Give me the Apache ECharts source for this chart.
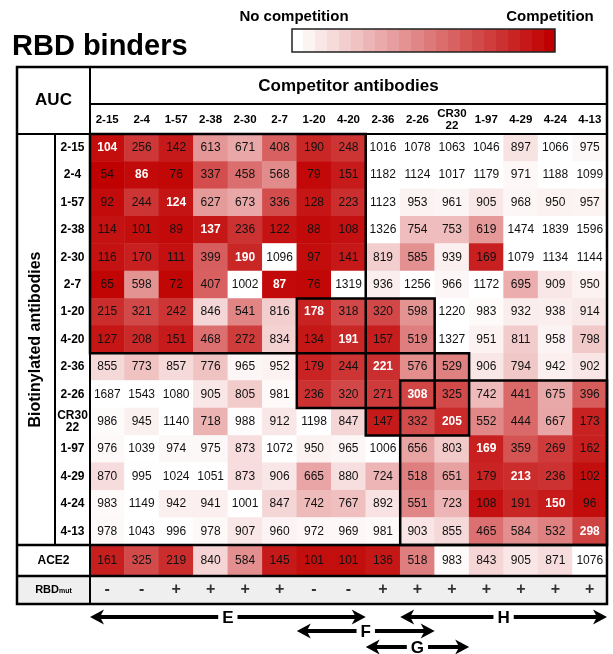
<!DOCTYPE html>
<html><head><meta charset="utf-8">
<script src="https://cdn.jsdelivr.net/npm/echarts@6.0.0/dist/echarts.min.js"></script>
<style>html,body{margin:0;padding:0;background:#fff}#c{width:613px;height:654px}</style>
</head><body><div id="c"></div>
<script>
// ---------- DATA ----------
const antibodies = ['2-15','2-4','1-57','2-38','2-30','2-7','1-20','4-20','2-36','2-26','CR3022','1-97','4-29','4-24','4-13'];
// AUC rows: biotinylated antibody (row) vs competitor antibodies (columns, same order)
const r_2_15  = [104, 256, 142, 613, 671, 408, 190, 248, 1016, 1078, 1063, 1046, 897, 1066, 975];
const r_2_4   = [54, 86, 76, 337, 458, 568, 79, 151, 1182, 1124, 1017, 1179, 971, 1188, 1099];
const r_1_57  = [92, 244, 124, 627, 673, 336, 128, 223, 1123, 953, 961, 905, 968, 950, 957];
const r_2_38  = [114, 101, 89, 137, 236, 122, 88, 108, 1326, 754, 753, 619, 1474, 1839, 1596];
const r_2_30  = [116, 170, 111, 399, 190, 1096, 97, 141, 819, 585, 939, 169, 1079, 1134, 1144];
const r_2_7   = [65, 598, 72, 407, 1002, 87, 76, 1319, 936, 1256, 966, 1172, 695, 909, 950];
const r_1_20  = [215, 321, 242, 846, 541, 816, 178, 318, 320, 598, 1220, 983, 932, 938, 914];
const r_4_20  = [127, 208, 151, 468, 272, 834, 134, 191, 157, 519, 1327, 951, 811, 958, 798];
const r_2_36  = [855, 773, 857, 776, 965, 952, 179, 244, 221, 576, 529, 906, 794, 942, 902];
const r_2_26  = [1687, 1543, 1080, 905, 805, 981, 236, 320, 271, 308, 325, 742, 441, 675, 396];
const r_CR3022= [986, 945, 1140, 718, 988, 912, 1198, 847, 147, 332, 205, 552, 444, 667, 173];
const r_1_97  = [976, 1039, 974, 975, 873, 1072, 950, 965, 1006, 656, 803, 169, 359, 269, 162];
const r_4_29  = [870, 995, 1024, 1051, 873, 906, 665, 880, 724, 518, 651, 179, 213, 236, 102];
const r_4_24  = [983, 1149, 942, 941, 1001, 847, 742, 767, 892, 551, 723, 108, 191, 150, 96];
const r_4_13  = [978, 1043, 996, 978, 907, 960, 972, 969, 981, 903, 855, 465, 584, 532, 298];
const aucRows = [r_2_15, r_2_4, r_1_57, r_2_38, r_2_30, r_2_7, r_1_20, r_4_20, r_2_36, r_2_26, r_CR3022, r_1_97, r_4_29, r_4_24, r_4_13];
const ace2 = [161, 325, 219, 840, 584, 145, 101, 101, 136, 518, 983, 843, 905, 871, 1076];
const rbdMut = ['-','-','+','+','+','+','-','-','+','+','+','+','+','+','+'];
const groups = [
  {name:'E', from:'2-15', to:'4-20'},
  {name:'F', from:'1-20', to:'2-26'},
  {name:'G', from:'2-36', to:'CR3022'},
  {name:'H', from:'2-26', to:'4-13'}
];
const colorScale = {min:50, max:1000};

// ---------- LAYOUT / STYLE ----------
const FONT = '"Liberation Sans", Arial, Helvetica, sans-serif';
const L = {tableL:17, tableR:607, tableT:67, headerLine:104, gridT:134, gridB:545, aceB:576, tableB:604, colL:90, divX:55};
const arrowLevelY = {E:617, F:631, G:647, H:617};
const RED = '#c00000';

const lbl = v => v === 'CR3022' ? 'CR30\n22' : v;

const heatData = [];
aucRows.forEach((row, r) => row.forEach((v, c) => {
  const item = {value:[c, r, v]};
  if (r === c) item.label = {color:'#fff', fontWeight:'bold'};
  heatData.push(item);
}));
const aceData = ace2.map((v, c) => [c, 0, v]);
const rbdData = rbdMut.map((s, c) => [c, 0]);

const gw = L.tableR - L.colL;
const option = {
  animation:false,
  textStyle:{fontFamily:FONT},
  grid:[
    {left:L.colL, top:L.gridT, width:gw, height:L.gridB-L.gridT, outerBoundsMode:'none'},
    {left:L.colL, top:L.gridB, width:gw, height:L.aceB-L.gridB, outerBoundsMode:'none'},
    {left:L.colL, top:L.aceB, width:gw, height:L.tableB-L.aceB, outerBoundsMode:'none',
     show:true, backgroundColor:'#efefef', borderWidth:0}
  ],
  xAxis:[
    {type:'category', gridIndex:0, data:antibodies, position:'top',
     axisLine:{show:false}, axisTick:{show:false}, splitLine:{show:false},
     axisLabel:{interval:0, margin:14, verticalAlign:'middle', fontWeight:'bold', fontSize:11.5, color:'#000', lineHeight:12, formatter:lbl, fontFamily:FONT}},
    {type:'category', gridIndex:1, data:antibodies, show:false},
    {type:'category', gridIndex:2, data:antibodies, show:false}
  ],
  yAxis:[
    {type:'category', gridIndex:0, data:antibodies, inverse:true,
     axisLine:{show:false}, axisTick:{show:false}, splitLine:{show:false},
     axisLabel:{interval:0, margin:(L.colL-L.divX)/2, align:'center', fontWeight:'bold', fontSize:12, color:'#000', lineHeight:12, formatter:lbl, fontFamily:FONT}},
    {type:'category', gridIndex:1, data:['ACE2'],
     axisLine:{show:false}, axisTick:{show:false}, splitLine:{show:false},
     axisLabel:{margin:(L.colL-L.tableL)/2, align:'center', fontWeight:'bold', fontSize:12, color:'#000', fontFamily:FONT}},
    {type:'category', gridIndex:2, data:['RBD'],
     axisLine:{show:false}, axisTick:{show:false}, splitLine:{show:false},
     axisLabel:{margin:(L.colL-L.tableL)/2, align:'center', formatter:'{a|RBD}{b|mut}',
       rich:{a:{fontWeight:'bold', fontSize:11, color:'#000', fontFamily:FONT},
             b:{fontWeight:'bold', fontSize:7, color:'#000', fontFamily:FONT, padding:[2,0,0,0]}}}}
  ],
  visualMap:{show:false, type:'continuous', min:colorScale.min, max:colorScale.max, seriesIndex:[0,1], dimension:2,
    inRange:{color:[RED,'#ffffff']}},
  series:[
    {type:'heatmap', xAxisIndex:0, yAxisIndex:0, data:heatData,
     label:{show:true, formatter:p => p.value[2], fontSize:12, color:'#111', fontFamily:FONT},
     emphasis:{disabled:true}, itemStyle:{borderWidth:0}},
    {type:'heatmap', xAxisIndex:1, yAxisIndex:1, data:aceData,
     label:{show:true, formatter:p => p.value[2], fontSize:12, color:'#111', fontFamily:FONT},
     emphasis:{disabled:true}},
    {type:'scatter', xAxisIndex:2, yAxisIndex:2, data:rbdData, symbolSize:1, silent:true,
     itemStyle:{color:'rgba(0,0,0,0)'},
     label:{show:true, position:'inside', formatter:p => rbdMut[p.dataIndex], fontSize:16, fontWeight:'bold', color:'#000', fontFamily:FONT},
     emphasis:{disabled:true}}
  ]
};

const chart = echarts.init(document.getElementById('c'), null, {renderer:'canvas'});
chart.setOption(option);

// ---------- GRAPHICS derived from axes ----------
const px = (c, r) => chart.convertToPixel({gridIndex:0}, [c, r]);
const cw = px(1,0)[0] - px(0,0)[0];
const ch = px(0,1)[1] - px(0,0)[1];
const colLeft = c => px(c,0)[0] - cw/2;
const rowTop = r => px(0,r)[1] - ch/2;

const g = [];
const T = (text, x, y, size, extra) => g.push(Object.assign({type:'text', x, y, z:100,
  style:{text, fill:'#000', font:`bold ${size}px ${FONT}`, align:'center', verticalAlign:'middle'}}, extra||{}));
const line = (x1,y1,x2,y2,w) => g.push({type:'line', z:100, shape:{x1,y1,x2,y2}, style:{stroke:'#000', lineWidth:w||2}});

// legend bar
const stops = [];
const nb = 22;
for (let i = 0; i < nb; i++) {
  const col = echarts.color.lerp(i/(nb-1), ['#ffffff', RED]);
  stops.push({offset:i/nb, color:col}, {offset:(i+1)/nb, color:col});
}
g.push({type:'rect', z:100, shape:{x:292, y:29, width:263, height:23},
  style:{fill:new echarts.graphic.LinearGradient(0,0,1,0,stops), stroke:'#222', lineWidth:1.5}});
T('No competition', 294, 17, 15);
T('Competition', 550, 17, 15);
g.push({type:'text', x:12, y:47, z:100, style:{text:'RBD binders', fill:'#000', font:`bold 29px ${FONT}`, align:'left', verticalAlign:'middle'}});

// RBD label cell background
g.push({type:'rect', z:-1, shape:{x:L.tableL, y:L.aceB, width:L.colL-L.tableL, height:L.tableB-L.aceB}, style:{fill:'#efefef'}});

// table texts
T('AUC', (L.tableL+L.colL)/2, 100, 17);
T('Competitor antibodies', (L.colL+L.tableR)/2, 86, 17);
T('Biotinylated antibodies', (L.tableL+L.divX)/2, (L.gridT+L.gridB)/2, 16, {rotation:Math.PI/2});

// table lines
g.push({type:'rect', z:100, shape:{x:L.tableL, y:L.tableT, width:L.tableR-L.tableL, height:L.tableB-L.tableT},
  style:{fill:'rgba(0,0,0,0)', stroke:'#000', lineWidth:2.5}});
line(L.colL, L.tableT, L.colL, L.tableB, 2);
line(L.colL, L.headerLine, L.tableR, L.headerLine, 2);
line(L.tableL, L.gridT, L.tableR, L.gridT, 2);
line(L.divX, L.gridT, L.divX, L.gridB, 2);
line(L.tableL, L.gridB, L.tableR, L.gridB, 2.5);
line(L.tableL, L.aceB, L.tableR, L.aceB, 2.5);

// group boxes + arrows
groups.forEach(gr => {
  const a = antibodies.indexOf(gr.from), b = antibodies.indexOf(gr.to);
  const x1 = colLeft(a), x2 = colLeft(b) + cw;
  const y1 = rowTop(a), y2 = rowTop(b) + ch;
  g.push({type:'rect', z:101, shape:{x:x1, y:y1, width:x2-x1, height:y2-y1},
    style:{fill:'rgba(0,0,0,0)', stroke:'#000', lineWidth:2.5}});
  const y = arrowLevelY[gr.name];
  line(x1+8, y, x2-8, y, 4);
  g.push({type:'polygon', z:100, shape:{points:[[x1,y],[x1+14,y-7.5],[x1+10,y],[x1+14,y+7.5]]}, style:{fill:'#000'}});
  g.push({type:'polygon', z:100, shape:{points:[[x2,y],[x2-14,y-7.5],[x2-10,y],[x2-14,y+7.5]]}, style:{fill:'#000'}});
  g.push({type:'text', x:(x1+x2)/2, y:y+1, z:102, style:{text:gr.name, fill:'#000', font:`bold 17px ${FONT}`,
    align:'center', verticalAlign:'middle', backgroundColor:'#fff', padding:[0,4]}});
});

chart.setOption({graphic:{elements:g}});
</script></body></html>
